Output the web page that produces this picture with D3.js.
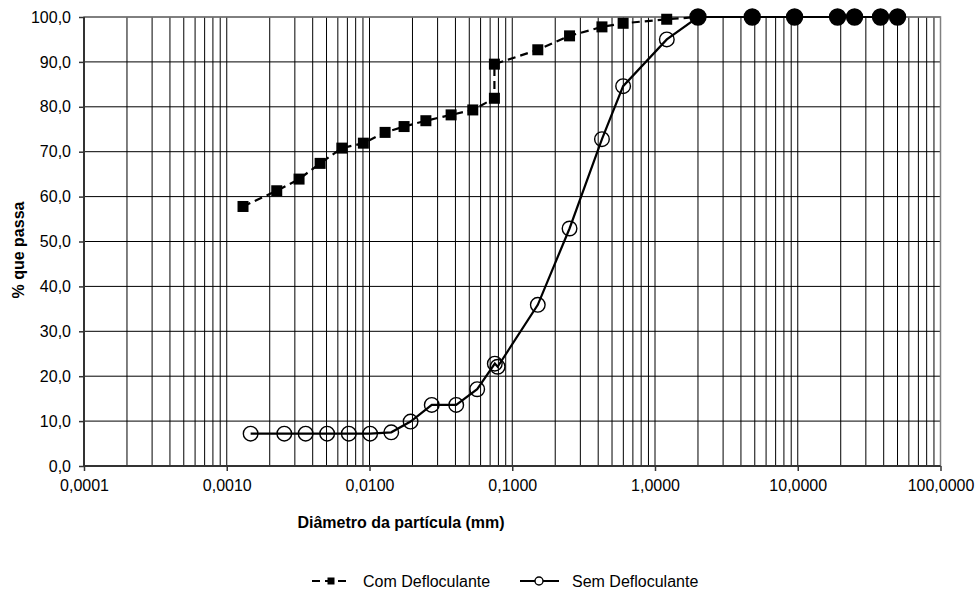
<!DOCTYPE html>
<html>
<head>
<meta charset="utf-8">
<script src="https://cdn.jsdelivr.net/npm/d3@7"></script>
<style>
  html, body { margin: 0; padding: 0; background: #fff; }
  svg { display: block; font-family: "Liberation Sans", Arial, sans-serif; }
</style>
</head>
<body>
<svg id="chart" width="980" height="592"></svg>
<script>
// ---------- data ----------
const comDiam = [0.0013, 0.00224, 0.00321, 0.00451, 0.0064, 0.00906, 0.01286, 0.01747, 0.02483, 0.0373, 0.0529, 0.075, 0.075, 0.151, 0.252, 0.425, 0.598, 1.208, 2.0, 4.8, 9.5, 19, 25, 38, 50];
const comPass = [57.8, 61.3, 63.9, 67.4, 70.8, 71.9, 74.3, 75.6, 76.9, 78.2, 79.3, 81.9, 89.5, 92.7, 95.8, 97.8, 98.6, 99.5, 100, 100, 100, 100, 100, 100, 100];
const semDiam = [0.00147, 0.00253, 0.00357, 0.00505, 0.00716, 0.0101, 0.0142, 0.0194, 0.0273, 0.0405, 0.0568, 0.0755, 0.079, 0.151, 0.252, 0.425, 0.598, 1.21, 2.0, 4.8, 9.5, 19, 25, 38, 50];
const semPass = [7.2, 7.2, 7.2, 7.2, 7.2, 7.2, 7.5, 9.9, 13.6, 13.6, 17.1, 22.8, 22.1, 35.9, 52.9, 72.8, 84.6, 95.0, 100, 100, 100, 100, 100, 100, 100];
const seriesNames = ["Com Defloculante", "Sem Defloculante"];
const xTickValues = [0.0001, 0.001, 0.01, 0.1, 1, 10, 100];
const xTickLabels = ["0,0001", "0,0010", "0,0100", "0,1000", "1,0000", "10,0000", "100,0000"];
const yTickValues = [0, 10, 20, 30, 40, 50, 60, 70, 80, 90, 100];
const yTickLabels = ["0,0", "10,0", "20,0", "30,0", "40,0", "50,0", "60,0", "70,0", "80,0", "90,0", "100,0"];
const xTitle = "Diâmetro da partícula (mm)";
const yTitle = "% que passa";

// ---------- layout ----------
const L = 84, R = 940.5, T = 17, B = 466;
const svg = d3.select("#chart");
const x = d3.scaleLog().domain([0.0001, 100]).range([L, R]);
const y = d3.scaleLinear().domain([0, 100]).range([B, T]);

// minor/major vertical grid (1..9 per decade)
const vGrid = [];
for (let e = -4; e <= 1; e++) for (let k = 1; k <= 9; k++) vGrid.push(k * Math.pow(10, e));
vGrid.push(100);

const grid = svg.append("g");
grid.selectAll("line.v").data(vGrid).enter().append("line")
  .attr("x1", d => x(d)).attr("x2", d => x(d)).attr("y1", T).attr("y2", B)
  .attr("stroke", "#000").attr("stroke-width", 1);
grid.selectAll("line.h").data(yTickValues).enter().append("line")
  .attr("x1", L).attr("x2", R).attr("y1", d => y(d)).attr("y2", d => y(d))
  .attr("stroke", "#000").attr("stroke-width", 1);

// border (top/right gray)
svg.append("rect").attr("x", L).attr("y", T).attr("width", R - L).attr("height", B - T)
  .attr("fill", "none").attr("stroke", "#808080").attr("stroke-width", 1.5);

// axes
const yAxis = d3.axisLeft(y).tickValues(yTickValues).tickSize(5).tickPadding(8)
  .tickFormat((d, i) => yTickLabels[i]);
const gy = svg.append("g").attr("transform", `translate(${L},0)`).call(yAxis);
const xAxis = d3.axisBottom(x).tickValues(xTickValues).tickSize(5).tickPadding(9)
  .tickFormat((d, i) => xTickLabels[i]);
const gx = svg.append("g").attr("transform", `translate(0,${B})`).call(xAxis);
[gx, gy].forEach(g => {
  g.select(".domain").attr("stroke", "#333").attr("stroke-width", 2);
  g.selectAll(".tick line").attr("stroke", "#333").attr("stroke-width", 1.5);
  g.selectAll(".tick text").attr("font-size", 16).attr("fill", "#000")
    .attr("font-family", '"Liberation Sans", Arial, sans-serif');
});
gx.select(".domain").attr("d", `M${L},0H${R}`);
gy.select(".domain").attr("d", `M0,${T}V${B}`);

// titles
svg.append("text").attr("x", 401).attr("y", 528).attr("text-anchor", "middle")
  .attr("font-size", 16).attr("font-weight", "bold").text(xTitle);
svg.append("text").attr("transform", "translate(24,250) rotate(-90)").attr("text-anchor", "middle")
  .attr("font-size", 16).attr("font-weight", "bold").text(yTitle);

// series
const com = comDiam.map((d, i) => ({ d, p: comPass[i] }));
const sem = semDiam.map((d, i) => ({ d, p: semPass[i] }));
const line = d3.line().x(v => x(v.d)).y(v => y(v.p));

svg.append("path").datum(com).attr("d", line).attr("fill", "none")
  .attr("stroke", "#000").attr("stroke-width", 2.2).attr("stroke-dasharray", "8,5");
svg.append("path").datum(sem).attr("d", line).attr("fill", "none")
  .attr("stroke", "#000").attr("stroke-width", 2.2);

const sq = 11;
svg.selectAll("rect.com").data(com).enter().append("rect")
  .attr("x", v => x(v.d) - sq / 2).attr("y", v => y(v.p) - sq / 2)
  .attr("width", sq).attr("height", sq).attr("fill", "#000");

const coincide = v => com.some(c => Math.abs(c.d - v.d) < 1e-9 && Math.abs(c.p - v.p) < 1e-9);
svg.selectAll("circle.sem").data(sem).enter().append("circle")
  .attr("cx", v => x(v.d)).attr("cy", v => y(v.p))
  .attr("r", v => coincide(v) ? 8 : 7.3)
  .attr("fill", v => coincide(v) ? "#000" : "none")
  .attr("stroke", "#000").attr("stroke-width", 1.4);

// legend
const lgY = 581;
const lg = svg.append("g");
lg.append("line").attr("x1", 312).attr("x2", 351).attr("y1", lgY).attr("y2", lgY)
  .attr("stroke", "#000").attr("stroke-width", 2.2).attr("stroke-dasharray", "8,5");
lg.append("rect").attr("x", 331 - 3.5).attr("y", lgY - 3.5).attr("width", 7).attr("height", 7).attr("fill", "#000");
lg.append("text").attr("x", 363).attr("y", lgY + 6).attr("font-size", 16).text(seriesNames[0]);
lg.append("line").attr("x1", 520).attr("x2", 559).attr("y1", lgY).attr("y2", lgY)
  .attr("stroke", "#000").attr("stroke-width", 2.2);
lg.append("circle").attr("cx", 539).attr("cy", lgY).attr("r", 4).attr("fill", "#fff")
  .attr("stroke", "#000").attr("stroke-width", 1.4);
lg.append("text").attr("x", 572).attr("y", lgY + 6).attr("font-size", 16).text(seriesNames[1]);
</script>
</body>
</html>
